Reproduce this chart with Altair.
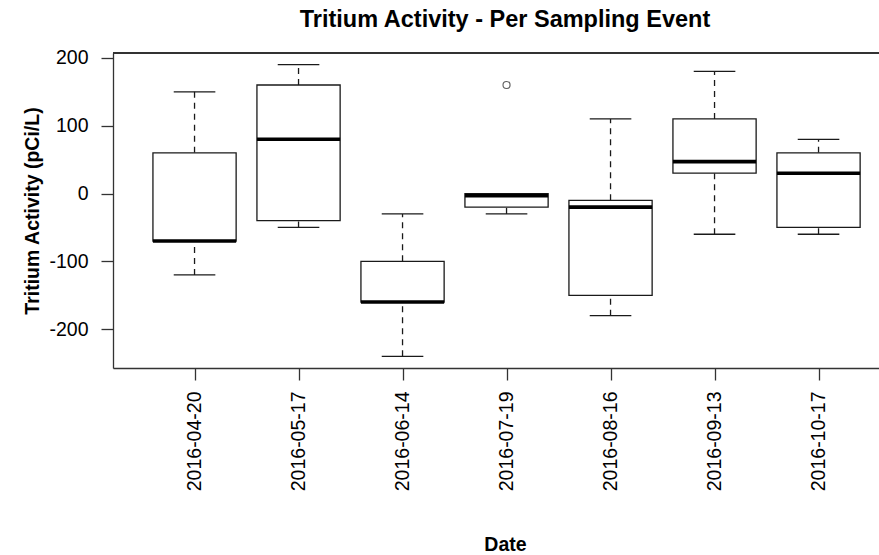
import altair as alt
import pandas as pd

title_text = "Tritium Activity - Per Sampling Event"
dates = ["2016-04-20", "2016-05-17", "2016-06-14", "2016-07-19",
         "2016-08-16", "2016-09-13", "2016-10-17"]
whisker_low = [-120, -50, -240, -30, -180, -60, -60]
q1 = [-70, -40, -160, -20, -150, 30, -50]
median = [-70, 80, -160, -3, -20, 47, 30]
q3 = [60, 160, -100, 0, -10, 110, 60]
whisker_high = [150, 190, -30, 0, 110, 180, 80]
outlier_dates = ["2016-07-19"]
outlier_values = [160]

pos = list(range(1, len(dates) + 1))
BOX_HALF = 0.4
CAP_HALF = 0.2

boxes = pd.DataFrame({
    "date": dates, "pos": pos,
    "lo": [p - BOX_HALF for p in pos], "hi": [p + BOX_HALF for p in pos],
    "clo": [p - CAP_HALF for p in pos], "chi": [p + CAP_HALF for p in pos],
    "wlow": whisker_low, "q1": q1, "median": median, "q3": q3, "whigh": whisker_high,
})

whisk = pd.DataFrame({
    "pos": pos + pos,
    "a": q3 + whisker_low,
    "b": whisker_high + q1,
})
caps = pd.DataFrame({
    "clo": list(boxes["clo"]) * 2,
    "chi": list(boxes["chi"]) * 2,
    "v": whisker_low + whisker_high,
})
outl = pd.DataFrame({
    "pos": [dates.index(d) + 1 for d in outlier_dates],
    "v": outlier_values,
})
title_df = pd.DataFrame({"t": [title_text]})

W, H = 766, 315
STEP = 104.0
x0 = 0.216
xscale = alt.Scale(domain=[x0, x0 + W / STEP], nice=False, zero=False)
yscale = alt.Scale(domain=[-257.2, 207.2], nice=False, zero=False)

label_arr = "[" + ",".join("'%s'" % d for d in dates) + "]"
FONT = "Liberation Sans"
INK = "#1a1a1a"

xaxis = alt.Axis(
    values=pos, labelExpr=label_arr + "[datum.value - 1]",
    labelAngle=270, labelAlign="right", labelBaseline="middle",
    labelPadding=11, tickSize=12, labelFontSize=19.5, labelFont=FONT,
    labelColor="black", title="Date", titleFont=FONT, titleFontSize=19.5,
    titleFontWeight="bold", titleColor="black", titleX=392, titleY=182,
    titleBaseline="alphabetic", grid=False, domainColor="#333",
    tickColor="#333", domainWidth=1.3, tickWidth=1.3,
)
yaxis = alt.Axis(
    values=[-200, -100, 0, 100, 200], tickSize=12, labelPadding=13,
    labelExpr="'' + datum.value",
    labelFontSize=19.5, labelFont=FONT, labelColor="black",
    labelBaseline="middle",
    title="Tritium Activity (pCi/L)", titleFont=FONT, titleFontSize=19.5,
    titleFontWeight="bold", titleColor="black", titleAngle=270,
    titleX=-75, titleY=H / 2, titleBaseline="alphabetic", titleAlign="center",
    grid=False, domainColor="#333", tickColor="#333", domainWidth=1.3,
    tickWidth=1.3,
)

whisker_layer = alt.Chart(whisk).mark_rule(
    color=INK, strokeWidth=1.3, strokeDash=[6, 5]
).encode(
    x=alt.X("pos:Q", scale=xscale, axis=xaxis),
    y=alt.Y("a:Q", scale=yscale, axis=yaxis),
    y2="b:Q",
)
cap_layer = alt.Chart(caps).mark_rule(color=INK, strokeWidth=1.3).encode(
    x=alt.X("clo:Q", scale=xscale), x2="chi:Q",
    y=alt.Y("v:Q", scale=yscale),
)
box_layer = alt.Chart(boxes).mark_rect(
    fill="white", stroke=INK, strokeWidth=1.3
).encode(
    x=alt.X("lo:Q", scale=xscale), x2="hi:Q",
    y=alt.Y("q1:Q", scale=yscale), y2="q3:Q",
)
median_layer = alt.Chart(boxes).mark_rule(color="black", strokeWidth=3.6).encode(
    x=alt.X("lo:Q", scale=xscale), x2="hi:Q",
    y=alt.Y("median:Q", scale=yscale),
)
outlier_layer = alt.Chart(outl).mark_point(
    shape="circle", filled=False, color=INK, size=50, strokeWidth=1.1
).encode(
    x=alt.X("pos:Q", scale=xscale),
    y=alt.Y("v:Q", scale=yscale),
)
top_border = alt.Chart(boxes).mark_rule(color="#333", strokeWidth=1.3).encode(
    x=alt.value(0), x2=alt.value(W), y=alt.value(0),
)
title_layer = alt.Chart(title_df).mark_text(
    font=FONT, fontSize=23.5, fontWeight="bold", color="black",
    align="center", baseline="alphabetic",
).encode(
    text="t:N", x=alt.value(392), y=alt.value(-26.3),
)

chart = alt.layer(
    whisker_layer, cap_layer, box_layer, median_layer, outlier_layer,
    top_border, title_layer
).properties(
    width=W, height=H,
    autosize=alt.AutoSizeParams(type="none"),
    padding={"left": 113, "top": 53, "right": 0, "bottom": 187},
).configure_view(stroke=None).configure(background="white")

chart.save("out.html", embed_options={"renderer": "svg", "actions": False})
